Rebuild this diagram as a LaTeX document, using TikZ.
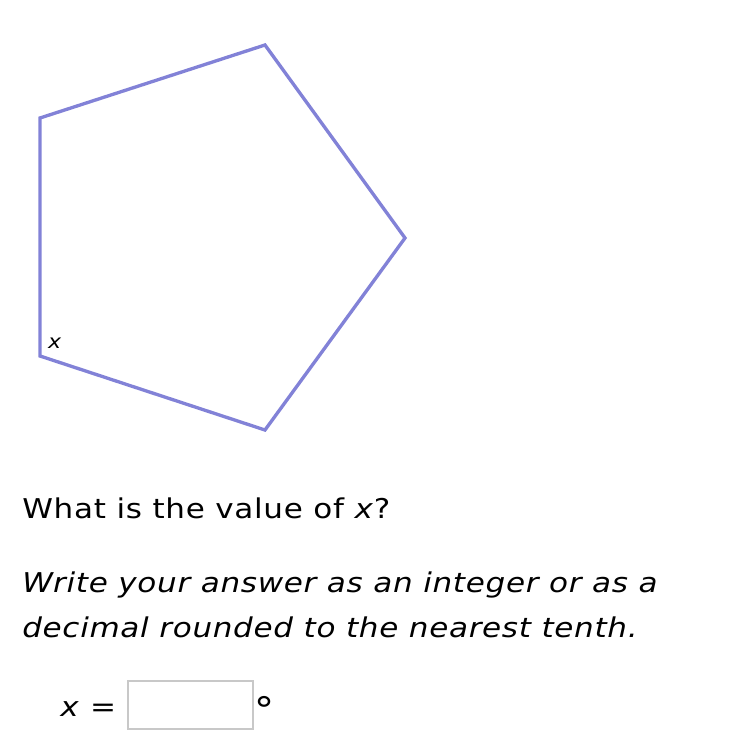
\documentclass[tikz,border=0pt]{standalone}
\usepackage{fontspec}
\setmainfont{DejaVu Sans}[FakeStretch=1.14, LetterSpace=2.5]
\definecolor{pentblue}{RGB}{130,130,215}
\definecolor{boxgray}{RGB}{200,200,200}

\begin{document}
\begin{tikzpicture}[x=0.02cm, y=-0.02cm]
	\useasboundingbox (0,0) rectangle (750,750);

	\coordinate (A) at (265, 45);
	\coordinate (B) at (405, 238);
	\coordinate (C) at (265, 430);
	\coordinate (D) at (40, 356);
	\coordinate (E) at (40, 118);

	\draw [pentblue, line width=1.9pt, line join=miter] (A) -- (B) -- (C) -- (D) -- (E) -- cycle;
	\node [font=\fontsize{11}{13}\selectfont] (xlabel) at (55, 343) {\textit{x}};

	\node [anchor=base west, inner sep=0, font=\fontsize{15.5}{19}\selectfont] (question) at (22, 518) {What is the value of \textit{x}?};
	\node [anchor=base west, inner sep=0, font=\fontsize{15.5}{19}\selectfont\itshape] (hint1) at (22, 592) {Write your answer as an integer or as a};
	\node [anchor=base west, inner sep=0, font=\fontsize{15.5}{19}\selectfont\itshape] (hint2) at (22, 637) {decimal rounded to the nearest tenth.};

	\node [anchor=base west, inner sep=0, font=\fontsize{15.5}{19}\selectfont] (answer) at (60, 716) {\textit{x} =};
	\draw [boxgray, line width=0.8pt] (128, 681) rectangle (253, 729);
	\node [anchor=base west, inner sep=0, font=\fontsize{20}{24}\selectfont] (degree) at (254, 722) {°};
\end{tikzpicture}
\end{document}
